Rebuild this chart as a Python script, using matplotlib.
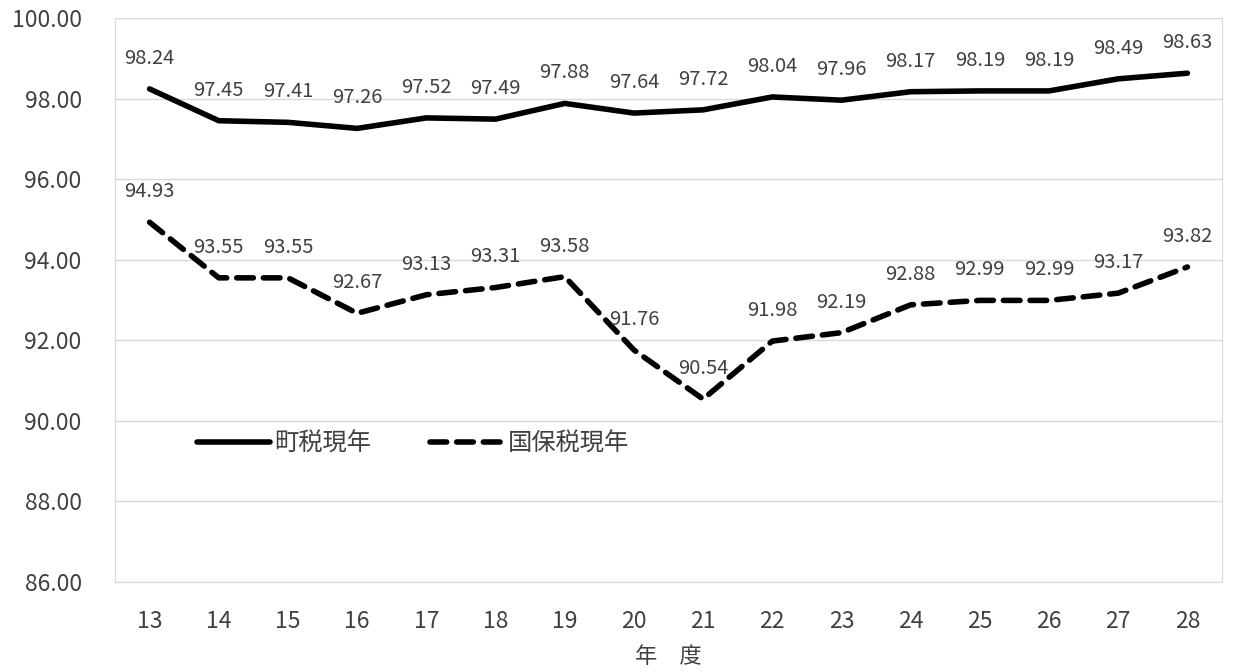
import numpy as np
import matplotlib.pyplot as plt

plt.rcParams['font.family'] = ['Noto Sans CJK JP', 'DejaVu Sans']

years = ['13', '14', '15', '16', '17', '18', '19', '20', '21', '22', '23', '24', '25', '26', '27', '28']
town_tax = [98.24, 97.45, 97.41, 97.26, 97.52, 97.49, 97.88, 97.64, 97.72, 98.04, 97.96, 98.17, 98.19, 98.19, 98.49, 98.63]
nhi_tax = [94.93, 93.55, 93.55, 92.67, 93.13, 93.31, 93.58, 91.76, 90.54, 91.98, 92.19, 92.88, 92.99, 92.99, 93.17, 93.82]

fig = plt.figure(figsize=(12.37, 6.72), dpi=100)
ax = fig.add_axes([115/1237, 1-582/672, (1222-115)/1237, (582-18)/672])

x = np.arange(len(years))
ax.plot(x, town_tax, color='black', lw=4, solid_capstyle='round', label='町税現年')
ax.plot(x, nhi_tax, color='black', lw=4, ls=(0, (3, 1.8)), dash_capstyle='round', label='国保税現年')

for series in (town_tax, nhi_tax):
    for xi, v in zip(x, series):
        ax.annotate(f'{v:.2f}', (xi, v), xytext=(0, 22), textcoords='offset points',
                    ha='center', va='center', fontsize=14.5, color='#404040')

ax.set_xlim(-0.5, len(years) - 0.5)
ax.set_ylim(86, 100)
ax.set_yticks(np.arange(86, 100.1, 2))
ax.set_yticklabels([f'{v:.2f}' for v in np.arange(86, 100.1, 2)])
ax.set_xticks(x)
ax.set_xticklabels(years)
ax.tick_params(axis='both', length=0, labelsize=16.5, labelcolor='#404040')
ax.tick_params(axis='x', pad=20)
ax.tick_params(axis='y', pad=24)
ax.grid(axis='y', color='#d9d9d9', lw=1)
ax.set_axisbelow(True)
for s in ax.spines.values():
    s.set_color('#d9d9d9')
ax.set_xlabel('年　度', fontsize=16, color='#404040', labelpad=9)

ax.legend(loc='center left', bbox_to_anchor=(0.074, 0.246), ncol=2, frameon=False,
          fontsize=17.5, handlelength=3.0, handletextpad=0.2, columnspacing=2.4,
          borderpad=0, borderaxespad=0, labelcolor='#404040')

fig.savefig('out.png', dpi=100)
